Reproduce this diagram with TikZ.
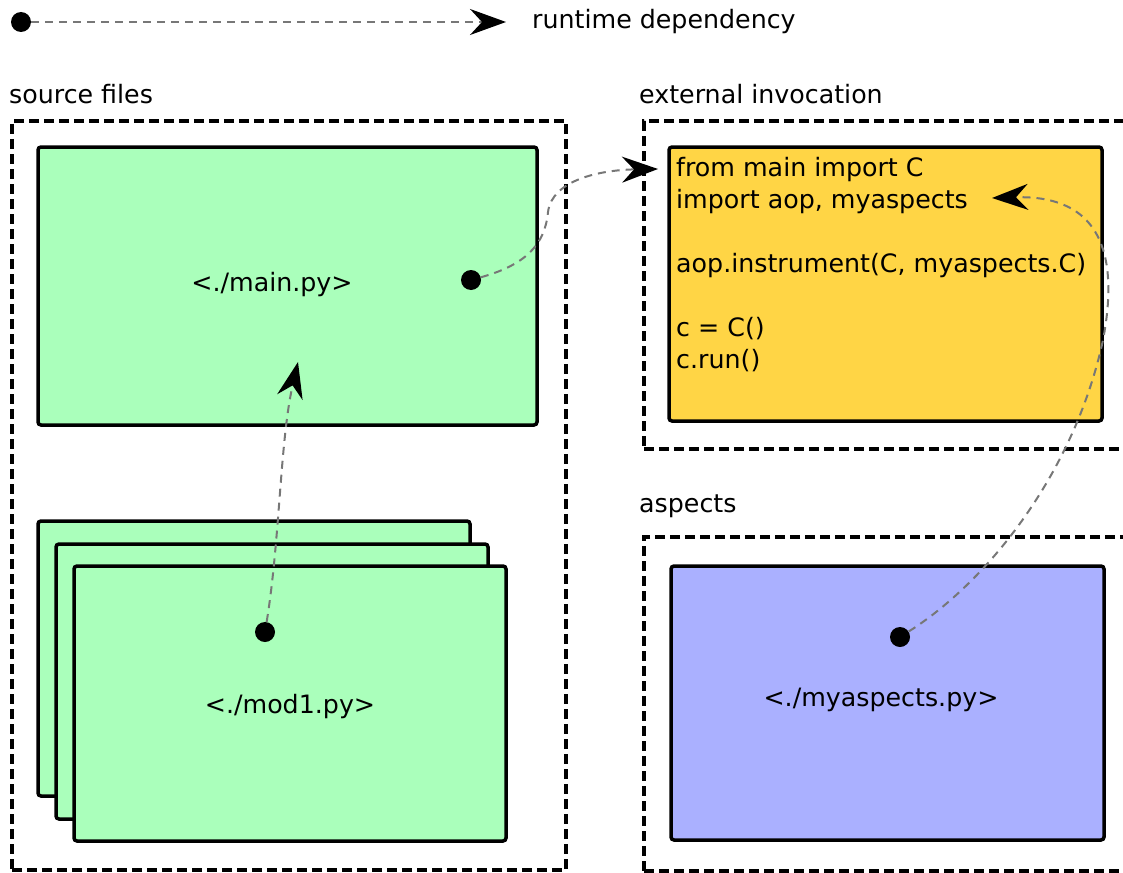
\documentclass[tikz,border=0pt]{standalone}
\usepackage{fontspec}
\setmainfont{DejaVu Sans}
\usetikzlibrary{arrows.meta}
\definecolor{boxgreen}{RGB}{170,255,187}
\definecolor{boxyellow}{RGB}{255,213,69}
\definecolor{boxblue}{RGB}{170,176,255}
\definecolor{depgray}{RGB}{119,119,119}
\begin{document}
\begin{tikzpicture}[x=1pt,y=-1pt,
  filebox/.style={draw=black, line width=3.5pt, rounded corners=3pt, inner sep=0pt},
  group/.style={draw=black, line width=3.2pt, dash pattern=on 10pt off 5pt, inner sep=0pt},
  dep/.style={draw=depgray, line width=2pt, dash pattern=on 8pt off 6pt, -{Stealth[length=36pt,width=26pt,inset=12pt,color=black,fill=black]}},
  dotnode/.style={circle, fill=black, inner sep=0pt, minimum size=20pt},
  lbl/.style={font=\fontsize{25.3}{32}\selectfont, inner sep=0pt}
]
\useasboundingbox (0,0) rectangle (1123,872);
\clip (0,0) rectangle (1123,872);

% legend
\node[dotnode] (ldot) at (21,22) {};
\coordinate (ltip) at (506,22);
\draw[dep] (ldot) -- (ltip);
\node[lbl, anchor=base west] (ltext) at (532,29) {runtime dependency};

% groups
\node[group, minimum width=554pt, minimum height=749pt] (src) at (289,495.5) {};
\node[group, minimum width=496pt, minimum height=328pt] (ext) at (892,285) {};
\node[group, minimum width=496pt, minimum height=334pt] (asp) at (892,704) {};
\node[lbl, anchor=base west] (srclbl) at (9,104) {source files};
\node[lbl, anchor=base west] (extlbl) at (639,104) {external invocation};
\node[lbl, anchor=base west] (asplbl) at (639,512) {aspects};

% source files
\node[filebox, fill=boxgreen, minimum width=499pt, minimum height=278pt] (main) at (287.5,286) {};
\node[lbl] (mainlbl) at (272,285) {<./main.py>};
\node[filebox, fill=boxgreen, minimum width=432pt, minimum height=275pt] (mod1a) at (254,658.5) {};
\node[filebox, fill=boxgreen, minimum width=432pt, minimum height=275pt] (mod1b) at (272,681.5) {};
\node[filebox, fill=boxgreen, minimum width=432pt, minimum height=275pt] (mod1c) at (290,703.5) {};
\node[lbl] (mod1lbl) at (290,707) {<./mod1.py>};

% external invocation
\node[filebox, fill=boxyellow, minimum width=433pt, minimum height=274pt] (inv) at (885.5,284) {};
\node[lbl, align=left, anchor=north west] (code) at (676,157)
  {from main import C\\import aop, myaspects\\[32pt]aop.instrument(C, myaspects.C)\\[32pt]c = C()\\c.run()};

% aspects
\node[filebox, fill=boxblue, minimum width=433pt, minimum height=274pt] (myasp) at (887.5,703) {};
\node[lbl] (myasplbl) at (881,700) {<./myaspects.py>};

% dots
\node[dotnode] (maindot) at (471,280) {};
\node[dotnode] (mod1dot) at (265,632) {};
\node[dotnode] (aspdot) at (900,637) {};

% connectors
\coordinate (tipinv) at (658,169);
\coordinate (tipmain) at (298,362);
\coordinate (tipcode) at (992,198);
\draw[dep] (maindot) .. controls (525,265) and (545,245) .. (548,212) .. controls (552,180) and (600,170) .. (tipinv);
\draw[dep] (mod1dot) .. controls (280,540) and (280,440) .. (tipmain);
\draw[dep] (aspdot) .. controls (990,580) and (1075,470) .. (1103,340) .. controls (1122,240) and (1090,195) .. (tipcode);
\end{tikzpicture}
\end{document}
